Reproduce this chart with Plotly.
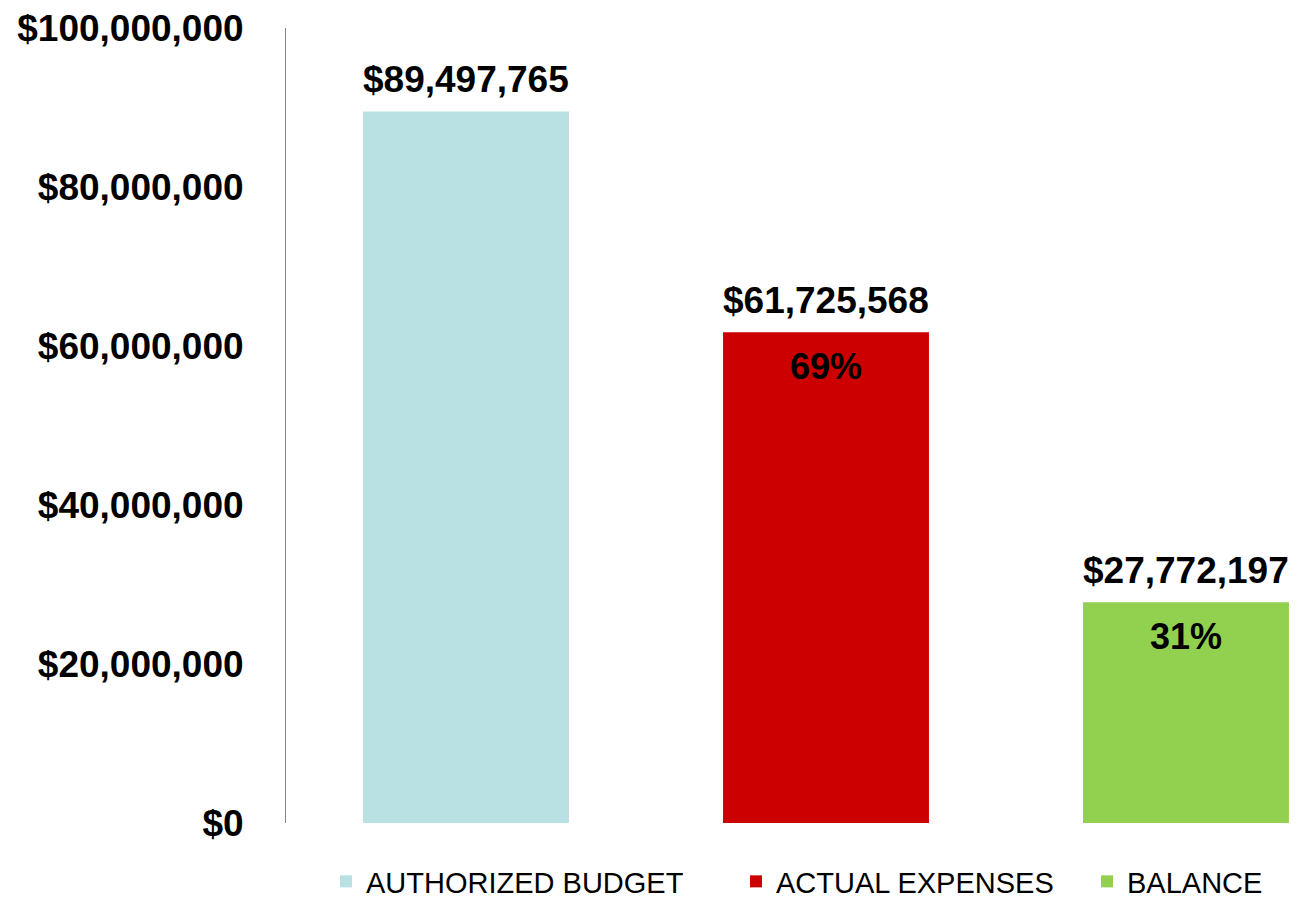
import plotly.graph_objects as go

categories = ["AUTHORIZED BUDGET", "ACTUAL EXPENSES", "BALANCE"]
values = [89497765, 61725568, 27772197]
percent_labels = ["", "69%", "31%"]
colors = ["#B9E0E3", "#CC0000", "#92D050"]
tick_vals = [0, 20000000, 40000000, 60000000, 80000000, 100000000]
tick_text = ["$0", "$20,000,000", "$40,000,000", "$60,000,000", "$80,000,000", "$100,000,000"]

FONT = "Liberation Sans, Arial, sans-serif"
W, H = 1312, 907

fig = go.Figure()
legend_names = ["legend", "legend2", "legend3"]
for i, (c, v, col) in enumerate(zip(categories, values, colors)):
    fig.add_trace(go.Bar(
        x=[i], y=[v], name=c, marker=dict(color=col, line=dict(width=0)),
        width=0.572, legend=legend_names[i], hoverinfo="skip",
    ))

annotations = []
for i, v in enumerate(values):
    annotations.append(dict(
        x=i, y=v, xref="x", yref="y", text=f"${v:,.0f}", showarrow=False,
        yanchor="bottom", yshift=9,
        font=dict(family=FONT, size=37, color="black", weight="bold"),
    ))
    if percent_labels[i]:
        annotations.append(dict(
            x=i, y=v, xref="x", yref="y", text=percent_labels[i], showarrow=False,
            yanchor="top", yshift=-12,
            font=dict(family=FONT, size=36, color="black", weight="bold"),
        ))

legend_left = [326, 736, 1087]
leg_common = dict(orientation="h", xref="container", yref="container",
                  xanchor="left", yanchor="bottom", bgcolor="rgba(0,0,0,0)",
                  font=dict(family=FONT, size=29, color="black"))
fig.update_layout(
    width=W, height=H,
    margin=dict(l=286, r=0, t=28, b=84, autoexpand=False),
    paper_bgcolor="white", plot_bgcolor="white",
    barmode="overlay",
    showlegend=True,
    font=dict(family=FONT, color="black"),
    xaxis=dict(range=[-0.5, 2.35], showticklabels=False, showgrid=False,
               zeroline=False, showline=False, ticks="", automargin=False),
    yaxis=dict(range=[0, 100000000], tickvals=tick_vals, ticktext=tick_text,
               showgrid=False, zeroline=False, showline=True, linecolor="#868686",
               linewidth=1, ticks="", ticklabelstandoff=34, automargin=False,
               tickfont=dict(family=FONT, size=37, color="black", weight="bold")),
    annotations=annotations,
    legend=dict(x=legend_left[0] / W, y=-0.006, **leg_common),
    legend2=dict(x=legend_left[1] / W, y=-0.006, **leg_common),
    legend3=dict(x=legend_left[2] / W, y=-0.006, **leg_common),
)

fig.write_html("out.html", config={"displayModeBar": False},
               post_script="document.body.style.margin='0';document.body.style.padding='0';")
